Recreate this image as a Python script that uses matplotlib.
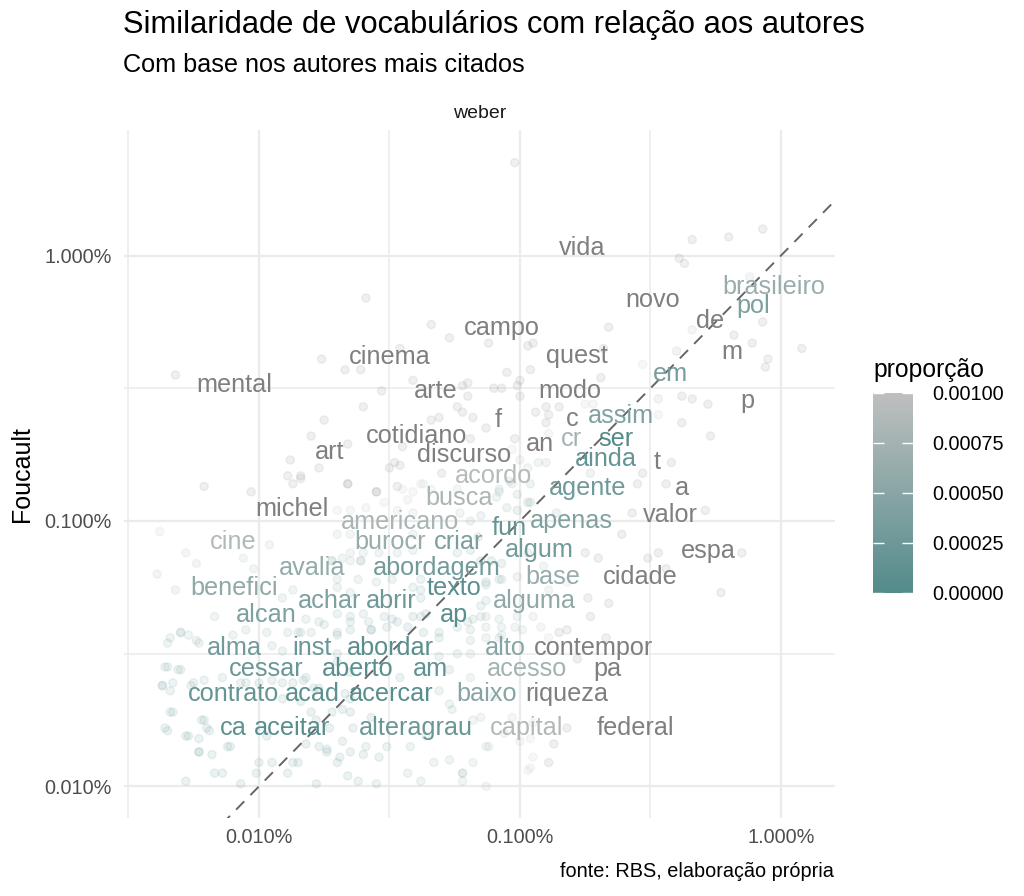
import numpy as np
import matplotlib
matplotlib.use("Agg")
import matplotlib.pyplot as plt
from matplotlib.colors import LinearSegmentedColormap, Normalize
from matplotlib.cm import ScalarMappable

plt.rcParams['font.family'] = ['Liberation Sans', 'DejaVu Sans']

title = "Similaridade de vocabulários com relação aos autores"
subtitle = "Com base nos autores mais citados"
caption = "fonte: RBS, elaboração própria"
facet_label = "weber"
y_label = "Foucault"
legend_title = "proporção"

words = ["vida", "novo", "brasileiro", "pol", "de", "m", "quest", "em", "campo", "cinema",
         "mental", "arte", "modo", "p", "f", "c", "assim", "cotidiano", "an", "cr",
         "ser", "art", "discurso", "ainda", "t", "acordo", "busca", "agente", "a", "michel",
         "valor", "americano", "apenas", "fun", "cine", "burocr", "criar", "algum", "espa", "avalia",
         "abordagem", "base", "cidade", "benefici", "texto", "achar", "abrir", "alguma", "alcan", "ap",
         "alma", "inst", "abordar", "alto", "contempor", "cessar", "aberto", "am", "acesso", "pa",
         "contrato", "acad", "acercar", "baixo", "riqueza", "ca", "aceitar", "alteragrau", "capital", "federal"]
weber = [1.728e-3, 3.23e-3, 9.40e-3, 7.81e-3, 5.35e-3, 6.49e-3, 1.65e-3, 3.76e-3, 8.53e-4, 3.18e-4,
         8.02e-5, 4.77e-4, 1.55e-3, 7.41e-3, 8.23e-4, 1.58e-3, 2.44e-3, 4.00e-4, 1.19e-3, 1.57e-3,
         2.33e-3, 1.87e-4, 6.10e-4, 2.14e-3, 3.35e-3, 7.95e-4, 5.84e-4, 1.81e-3, 4.18e-3, 1.34e-4,
         3.76e-3, 3.47e-4, 1.58e-3, 9.08e-4, 7.95e-5, 3.18e-4, 5.84e-4, 1.19e-3, 5.25e-3, 1.60e-4,
         4.81e-4, 1.33e-3, 2.88e-3, 8.02e-5, 5.59e-4, 1.87e-4, 3.20e-4, 1.14e-3, 1.064e-4, 5.59e-4,
         8.02e-5, 1.60e-4, 3.20e-4, 8.76e-4, 1.92e-3, 1.064e-4, 2.40e-4, 4.52e-4, 1.064e-3, 2.17e-3,
         8.02e-5, 1.60e-4, 3.20e-4, 7.47e-4, 1.51e-3, 7.95e-5, 1.34e-4, 4.00e-4, 1.064e-3, 2.76e-3]
foucault = [1.226e-2, 7.81e-3, 8.74e-3, 7.42e-3, 6.50e-3, 4.98e-3, 4.80e-3, 4.11e-3, 6.12e-3, 4.76e-3,
            3.74e-3, 3.55e-3, 3.55e-3, 3.25e-3, 2.76e-3, 2.78e-3, 2.86e-3, 2.40e-3, 2.25e-3, 2.34e-3,
            2.34e-3, 2.09e-3, 2.04e-3, 1.97e-3, 1.92e-3, 1.70e-3, 1.40e-3, 1.53e-3, 1.53e-3, 1.275e-3,
            1.21e-3, 1.14e-3, 1.149e-3, 1.081e-3, 9.58e-4, 9.58e-4, 9.58e-4, 8.93e-4, 8.86e-4, 7.64e-4,
            7.64e-4, 7.07e-4, 7.07e-4, 6.43e-4, 6.43e-4, 5.74e-4, 5.74e-4, 5.74e-4, 5.08e-4, 5.08e-4,
            3.82e-4, 3.82e-4, 3.82e-4, 3.82e-4, 3.82e-4, 3.18e-4, 3.18e-4, 3.18e-4, 3.18e-4, 3.18e-4,
            2.56e-4, 2.56e-4, 2.56e-4, 2.56e-4, 2.56e-4, 1.91e-4, 1.91e-4, 1.91e-4, 1.91e-4, 1.91e-4]

# jittered points (log10 of proportion)
point_log_weber = [
    -3.02, -3.59, -3.34, -3.27, -3.12, -2.95, -2.97, -3.76, -3.67, -3.61, -3.46, -3.05, -2.96, -4.32,
    -3.41, -3.53, -3.22, -3.20, -3.20, -3.10, -3.07, -3.01, -3.00, -3.00, -3.60, -3.24, -3.22, -3.31,
    -3.34, -3.18, -3.75, -3.13, -2.94, -3.80, -3.66, -3.45, -3.19, -3.02, -3.03, -3.88, -3.77, -3.48,
    -3.46, -3.50, -3.00, -2.97, -3.30, -3.89, -3.84,
    -2.34, -2.20, -2.07, -2.39, -2.37, -2.12, -2.66, -2.34, -2.18, -2.07, -2.11, -1.92, -2.05, -2.06,
    -2.40, -2.53, -2.68, -2.69, -2.47, -2.38, -2.34, -2.28, -2.38, -2.27, -2.47, -2.90, -2.85, -2.89,
    -2.75, -2.72, -2.90, -2.89, -2.93, -2.90, -2.73, -2.53, -2.42,
    -4.21, -3.87, -3.84, -3.66, -4.03, -3.55, -3.45, -3.38, -3.08, -3.03, -2.96, -4.38, -4.28, -4.24,
    -4.06, -4.02, -3.96, -3.72, -3.65, -3.61, -3.11, -4.39, -4.32, -3.91, -3.87, -3.38, -3.13, -3.08,
    -4.17, -3.82, -3.77, -3.65, -3.58, -3.47, -3.38, -3.20, -3.15, -4.34, -4.30, -4.23, -3.97, -3.89,
    -3.84, -3.57, -3.31, -3.19, -3.13, -3.07, -4.36, -4.31, -3.82, -3.65, -3.46, -3.27, -3.19, -4.37,
    -4.34, -4.25, -3.77, -3.65, -3.31, -3.27, -3.10, -4.34, -4.21, -4.19, -3.72, -3.65, -3.57, -3.26,
    -3.15, -4.36, -4.27, -3.64, -3.13, -3.06, -4.23, -4.12, -3.97, -3.82, -3.74, -3.65, -3.59, -3.54,
    -3.51, -3.42, -3.36, -3.00, -4.00, -3.95, -3.87, -3.70, -3.60, -3.33, -3.27, -4.17, -4.14, -4.01,
    -3.89, -3.66, -3.62, -3.43, -3.38, -3.22, -4.28, -4.07, -3.78, -3.55, -3.13, -2.95, -2.97,
    -2.55, -2.44, -3.24, -3.09, -2.97, -2.86, -2.57, -2.29, -2.61, -2.70, -2.75, -2.51, -2.47, -2.15,
    -2.23, -2.44, -2.66, -2.74, -2.89, -2.82, -2.73, -2.82, -2.85, -2.89, -2.67, -3.08, -3.02, -2.78,
    -3.18, -3.03, -2.95, -2.82, -2.87, -2.96, -3.12, -3.18, -3.22, -3.22, -2.96, -2.89,
    -4.35, -4.30, -4.27, -4.24, -4.35, -4.30, -4.37, -4.33, -4.26, -4.21, -4.14, -4.07, -4.05, -4.00,
    -3.95, -3.91, -3.87, -3.83, -3.79, -4.10, -4.05, -3.95, -3.91, -3.85, -3.80, -3.75, -3.70, -3.70,
    -4.33, -4.22, -4.20, -4.35, -4.28, -4.23, -4.11, -4.23, -4.18, -3.85, -3.80, -3.78, -3.73, -3.77,
    -3.74, -3.69, -3.68, -3.68, -3.67, -3.84, -3.91,
    -3.66, -3.55, -3.47, -3.43, -3.41, -3.37, -3.34, -3.70, -3.65, -3.59, -3.52, -3.47, -3.41, -3.23,
    -3.19, -3.15, -3.08, -3.04, -3.01, -2.96, -3.05, -3.01, -3.70, -3.65, -3.41, -3.41, -3.47, -3.54,
    -3.60, -3.65, -3.72, -3.68, -3.61, -3.24, -3.19, -3.15, -3.07, -3.16, -2.97, -2.91, -3.70, -3.62,
    -3.55, -3.49, -3.41, -3.38, -3.13, -3.07, -3.01, -3.70, -3.65, -3.38, -3.13, -3.15, -3.70, -3.65,
    -3.60, -3.52, -3.49, -3.41, -3.36, -3.18, -3.13, -3.08, -3.01, -2.95, -3.70, -3.65, -3.57, -3.51,
    -3.43, -3.37, -3.31, -3.24, -3.19, -3.13, -3.07, -2.99, -2.92, -3.70, -3.31, -3.24, -3.19]
point_log_foucault = [
    -1.65, -2.16, -2.26, -2.31, -2.33, -2.33, -2.34, -2.39, -2.43, -2.43, -2.35, -2.44, -2.43, -2.45,
    -2.47, -2.51, -2.49, -2.48, -2.53, -2.50, -2.50, -2.49, -2.47, -2.53, -2.57, -2.57, -2.59, -2.61,
    -2.62, -2.61, -2.62, -2.65, -2.59, -2.68, -2.71, -2.72, -2.69, -2.69, -2.73, -2.77, -2.80, -2.78,
    -2.79, -2.80, -2.77, -2.80, -2.82, -2.83, -2.84,
    -1.94, -1.93, -1.90, -2.01, -2.03, -2.08, -2.27, -2.28, -2.30, -2.25, -2.33, -2.35, -2.39, -2.42,
    -2.36, -2.41, -2.35, -2.46, -2.54, -2.53, -2.54, -2.56, -2.63, -2.68, -2.60, -2.57, -2.57, -2.60,
    -2.56, -2.56, -2.63, -2.67, -2.78, -2.78, -2.82, -2.82, -2.78,
    -2.87, -2.86, -2.83, -2.86, -2.89, -2.89, -2.88, -2.86, -2.89, -2.86, -2.93, -3.04, -3.12, -3.16,
    -3.14, -3.18, -3.09, -3.15, -3.15, -3.15, -3.15, -3.20, -3.26, -3.29, -3.26, -3.26, -3.24, -3.22,
    -3.36, -3.37, -3.38, -3.38, -3.38, -3.38, -3.36, -3.38, -3.36, -3.44, -3.42, -3.46, -3.42, -3.42,
    -3.42, -3.41, -3.44, -3.45, -3.44, -3.43, -3.55, -3.56, -3.59, -3.57, -3.59, -3.56, -3.59, -3.62,
    -3.64, -3.61, -3.63, -3.67, -3.64, -3.69, -3.66, -3.72, -3.75, -3.79, -3.72, -3.72, -3.74, -3.71,
    -3.74, -3.78, -3.81, -3.78, -3.85, -3.80, -3.87, -3.85, -3.81, -3.84, -3.86, -3.87, -3.85, -3.89,
    -3.85, -3.85, -3.81, -3.83, -3.91, -3.91, -3.91, -3.91, -3.88, -3.91, -3.90, -3.95, -3.95, -3.95,
    -3.95, -3.96, -3.98, -3.95, -3.98, -3.95, -3.98, -3.99, -3.99, -3.99, -4.00, -3.89, -3.94,
    -2.86, -2.86, -2.88, -2.91, -2.93, -2.97, -2.97, -2.96, -3.05, -3.14, -3.12, -3.14, -3.12, -3.12,
    -3.27, -3.18, -3.31, -3.29, -3.26, -3.23, -3.36, -3.41, -3.42, -3.44, -3.44, -3.44, -3.40, -3.52,
    -3.75, -3.74, -3.76, -3.78, -3.84, -3.82, -3.85, -3.91, -3.95, -3.98, -3.93, -3.91,
    -3.46, -3.42, -3.43, -3.45, -3.55, -3.56, -3.62, -3.61, -3.62, -3.60, -3.59, -3.61, -3.61, -3.61,
    -3.60, -3.61, -3.61, -3.60, -3.63, -3.43, -3.41, -3.47, -3.49, -3.42, -3.42, -3.39, -3.43, -3.50,
    -3.72, -3.75, -3.78, -3.79, -3.81, -3.82, -3.85, -3.87, -3.88, -3.91, -3.72, -3.75, -3.78, -3.85,
    -3.87, -3.89, -3.83, -3.71, -3.65, -3.68, -3.67,
    -2.86, -2.89, -2.87, -2.92, -2.89, -2.86, -2.88, -2.96, -2.96, -2.95, -2.93, -2.96, -2.97, -2.97,
    -3.00, -2.98, -2.88, -2.85, -2.90, -2.86, -2.95, -2.96, -3.05, -3.05, -3.05, -3.11, -3.12, -3.12,
    -3.12, -3.12, -3.15, -3.14, -3.15, -3.12, -3.11, -3.15, -3.16, -3.06, -3.12, -3.17, -3.22, -3.22,
    -3.23, -3.22, -3.25, -3.22, -3.23, -3.22, -3.21, -3.25, -3.27, -3.29, -3.30, -3.32, -3.35, -3.36,
    -3.35, -3.36, -3.37, -3.36, -3.35, -3.37, -3.36, -3.37, -3.36, -3.36, -3.42, -3.41, -3.41, -3.40,
    -3.40, -3.42, -3.42, -3.40, -3.41, -3.40, -3.40, -3.41, -3.40, -3.53, -3.51, -3.50, -3.50]

x_ticks = [1e-4, 1e-3, 1e-2]
x_tick_labels = ["0.010%", "0.100%", "1.000%"]
y_ticks = [1e-4, 1e-3, 1e-2]
y_tick_labels = ["0.010%", "0.100%", "1.000%"]
legend_ticks = [0.0, 0.00025, 0.0005, 0.00075, 0.001]
legend_tick_labels = ["0.00000", "0.00025", "0.00050", "0.00075", "0.00100"]
color_limit = 0.001

low_col = "#528B8B"   # darkslategray4
high_col = "#BFBFBF"  # gray75
na_col = "#7F7F7F"    # grey50
cmap = LinearSegmentedColormap.from_list("g", [low_col, high_col])
norm = Normalize(0, color_limit)


def col_for(diff):
    return na_col if diff > color_limit else cmap(norm(diff))


fig = plt.figure(figsize=(10.24, 8.96), dpi=100)
ax = fig.add_axes([124 / 1024, 1 - 818 / 896, (835 - 124) / 1024, (818 - 130) / 896])
ax.set_xscale('log')
ax.set_yscale('log')
ax.set_xlim(10 ** -4.517, 10 ** -1.793)
ax.set_ylim(10 ** -4.119, 10 ** -1.527)

for s in ax.spines.values():
    s.set_visible(False)
grid_col = "#EBEBEB"
ax.set_xticks(x_ticks)
ax.set_xticklabels(x_tick_labels)
ax.set_yticks(y_ticks)
ax.set_yticklabels(y_tick_labels)
ax.set_xticks([10 ** -4.5, 10 ** -3.5, 10 ** -2.5], minor=True)
ax.set_yticks([10 ** -3.5, 10 ** -2.5], minor=True)
ax.set_xticklabels([], minor=True)
ax.set_yticklabels([], minor=True)
ax.grid(True, which='major', color=grid_col, linewidth=1.6)
ax.grid(True, which='minor', color=grid_col, linewidth=1.1)
ax.set_axisbelow(True)
ax.tick_params(axis='both', which='both', length=0, labelsize=14.3, labelcolor="#4D4D4D")
ax.tick_params(axis='x', pad=7)
ax.tick_params(axis='y', pad=9)

# diagonal reference y = x
ax.plot([1e-5, 1e-1], [1e-5, 1e-1], color="#666666", linestyle=(0, (6, 4.5)), linewidth=1.4, zorder=2)

px = 10 ** np.array(point_log_weber)
py = 10 ** np.array(point_log_foucault)
pcols = [col_for(abs(b - a)) for a, b in zip(px, py)]
ax.scatter(px, py, s=34, c=pcols, edgecolors=pcols, linewidths=1.1, alpha=0.11, zorder=3)

for w, xv, yv in zip(words, weber, foucault):
    c = col_for(abs(yv - xv))
    ax.annotate(w, xy=(xv, yv), xytext=(0, -16.6), textcoords='offset points',
                ha='center', va='baseline', fontsize=18.2, color=c, zorder=4)

# texts
fig.text(123 / 1024, 1 - 25 / 896, title, fontsize=22.2, ha='left', va='center', color='black')
fig.text(123 / 1024, 1 - 65 / 896, subtitle, fontsize=18.2, ha='left', va='center', color='black')
fig.text(((124 + 835) / 2) / 1024, 1 - 113 / 896, facet_label, fontsize=14.0, ha='center', va='center', color='#1A1A1A')
fig.text(22 / 1024, 1 - 474 / 896, y_label, fontsize=18.0, rotation=90, ha='center', va='center', color='black')
fig.text(834 / 1024, 1 - 871 / 896, caption, fontsize=14.3, ha='right', va='center', color='black')

# colourbar legend
cax = fig.add_axes([873 / 1024, 1 - 593 / 896, 40 / 1024, 200 / 896])
sm = ScalarMappable(norm=norm, cmap=cmap)
cb = fig.colorbar(sm, cax=cax, ticks=legend_ticks)
cb.outline.set_visible(False)
cb.ax.set_yticklabels(legend_tick_labels)
cb.ax.tick_params(which='both', direction='in', length=8, width=1, color='white',
                  left=True, right=True, labelsize=14.3, labelcolor='black', pad=14)
cb.ax.minorticks_off()
fig.text(873 / 1024, 1 - 370 / 896, legend_title, fontsize=17.8, ha='left', va='center', color='black')

fig.savefig("out.png", dpi=100)
